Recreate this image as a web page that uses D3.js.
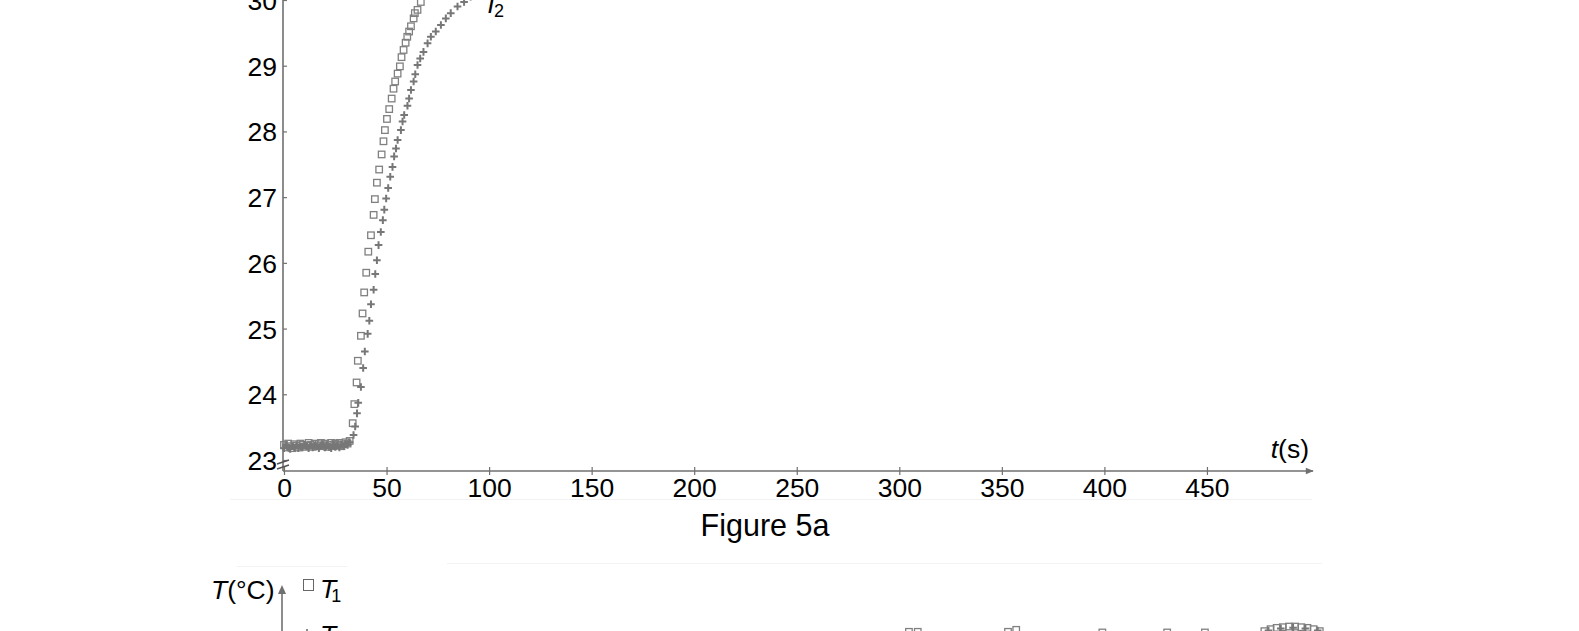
<!DOCTYPE html>
<html>
<head>
<meta charset="utf-8">
<script src="https://cdn.jsdelivr.net/npm/d3@7/dist/d3.min.js"></script>
<style>
  html, body { margin: 0; padding: 0; background: #fff; }
  svg { display: block; }
  text { font-family: "Liberation Sans", Arial, sans-serif; fill: #000; }
</style>
</head>
<body>
<svg id="chart" width="1579" height="631"></svg>
<script>
// ---------------- data ----------------
const xTicks = [0, 50, 100, 150, 200, 250, 300, 350, 400, 450];
const yTicks = [23, 24, 25, 26, 27, 28, 29, 30];

// T1 (squares) — Figure 5a
const t1Time = [0,1,2,3,4,5,6,7,8,9,10,11,12,13,14,15,16,17,18,19,20,21,22,23,24,25,26,27,28,29,30,31,32,
  33.5,34.3,35.4,36.0,37.5,38.3,39.1,40.1,41.1,42.4,43.7,44.3,45.3,46.4,47.6,48.5,49.2,50.2,51.3,52.5,53.4,
  54.2,55.4,56.5,57.3,58.3,59.3,60.1,61.0,61.9,63.2,63.8,65.1,66.7,68.0,69.5];
const t1Temp = [23.23,23.19,23.25,23.21,23.18,23.24,23.22,23.19,23.25,23.23,23.20,23.22,23.26,23.23,23.20,23.25,
  23.21,23.24,23.26,23.21,23.25,23.20,23.23,23.26,23.21,23.25,23.23,23.26,23.21,23.24,23.27,23.25,23.29,
  23.56,23.85,24.18,24.51,24.89,25.23,25.55,25.85,26.17,26.42,26.73,26.97,27.22,27.42,27.65,27.85,28.02,
  28.19,28.34,28.50,28.65,28.76,28.88,28.99,29.13,29.24,29.35,29.44,29.52,29.60,29.72,29.80,29.85,29.97,30.10,30.25];

// T2 (plus) — Figure 5a
const t2Time = [0,1,2,3,4,5,6,7,8,9,10,11,12,13,14,15,16,17,18,19,20,21,22,23,24,25,26,27,28,29,30,31,32,
  33.9,34.7,35.6,36.2,37.5,38.6,39.4,40.8,41.6,42.4,43.7,44.5,45.3,46.1,47.2,48.2,48.9,49.8,50.8,51.8,52.9,
  53.7,54.6,55.4,57.0,57.8,58.6,60.2,61.0,61.9,63.2,64.0,65.1,66.4,68.0,70.0,71.6,74.0,76.5,78.9,81.3,84.6,87.8,91.0,94.5];
const t2Temp = [23.18,23.22,23.19,23.17,23.21,23.19,23.22,23.18,23.21,23.19,23.23,23.21,23.18,23.22,23.19,23.22,
  23.21,23.18,23.22,23.23,23.19,23.22,23.20,23.18,23.23,23.20,23.22,23.19,23.23,23.21,23.24,23.23,23.27,
  23.38,23.51,23.71,23.87,24.11,24.40,24.65,24.92,25.12,25.37,25.59,25.83,26.04,26.27,26.47,26.65,26.81,
  26.98,27.14,27.31,27.46,27.62,27.74,27.87,28.02,28.15,28.25,28.39,28.50,28.63,28.76,28.87,29.01,29.11,
  29.21,29.34,29.44,29.52,29.62,29.72,29.80,29.90,29.97,30.05,30.12];

// Figure 5b — only the tops of these markers are visible
const b1Time = [304.7, 309.0, 353.0, 357.0, 399.0, 430.6, 449.0, 478, 481, 484, 487, 490, 493, 496, 499, 502, 505];
const b1Temp = [33.14, 33.14, 33.14, 33.17, 33.13, 33.13, 33.13, 33.15, 33.18, 33.2, 33.21, 33.22, 33.22, 33.21, 33.2, 33.18, 33.15];
const b2Time = [480, 486, 492, 498, 504];
const b2Temp = [33.16, 33.19, 33.2, 33.19, 33.16];

// ---------------- drawing ----------------
const svg = d3.select("#chart");
const grey = "#808080";
const axisGrey = "#707070";
const tickFont = 26.5;

svg.append("rect").attr("width", 1579).attr("height", 631).attr("fill", "#fff");

// faint image boundaries
svg.append("line").attr("x1", 230).attr("x2", 1312).attr("y1", 499.5).attr("y2", 499.5)
  .attr("stroke", "#f2f2f2").attr("stroke-width", 1);
svg.append("line").attr("x1", 447).attr("x2", 1322).attr("y1", 563.5).attr("y2", 563.5)
  .attr("stroke", "#f3f3f3").attr("stroke-width", 1);
svg.append("line").attr("x1", 237).attr("x2", 347).attr("y1", 566.5).attr("y2", 566.5)
  .attr("stroke", "#f3f3f3").attr("stroke-width", 1);

const defs = svg.append("defs");
defs.append("marker").attr("id", "arrow").attr("viewBox", "0 0 10 10")
  .attr("refX", 9).attr("refY", 5).attr("markerWidth", 10).attr("markerHeight", 8)
  .attr("markerUnits", "userSpaceOnUse").attr("orient", "auto")
  .append("path").attr("d", "M0,1 L10,5 L0,9 Z").attr("fill", axisGrey);

// scales (Figure 5a)
const x = d3.scaleLinear().domain([0, 500]).range([284, 284 + 500 * 2.051]);
const y = d3.scaleLinear().domain([23, 30]).range([460, 0]);
const yAxisX = 283;
const xAxisY = 471;

// Y axis line
svg.append("line").attr("x1", yAxisX).attr("x2", yAxisX).attr("y1", -10).attr("y2", xAxisY)
  .attr("stroke", axisGrey).attr("stroke-width", 1.6);
// X axis line with arrow
svg.append("line").attr("x1", yAxisX).attr("x2", 1313).attr("y1", xAxisY).attr("y2", xAxisY)
  .attr("stroke", axisGrey).attr("stroke-width", 1.6).attr("marker-end", "url(#arrow)");

// x axis ticks & labels
const gx = svg.append("g").attr("transform", `translate(0,${xAxisY})`)
  .call(d3.axisBottom(x).tickValues(xTicks).tickSize(4).tickPadding(6).tickFormat(d3.format("d")));
gx.select(".domain").remove();
gx.selectAll(".tick line").attr("y1", -4).attr("y2", 4).attr("stroke", axisGrey).attr("stroke-width", 1.2);
gx.selectAll(".tick text").attr("font-size", tickFont).attr("font-family", "Liberation Sans, Arial, sans-serif")
  .attr("fill", "#000").attr("y", 26).attr("dy", 0);

// y axis ticks & labels
const gy = svg.append("g").attr("transform", `translate(${yAxisX},0)`)
  .call(d3.axisLeft(y).tickValues(yTicks).tickSizeInner(-4).tickSizeOuter(0).tickPadding(6).tickFormat(d3.format("d")));
gy.select(".domain").remove();
gy.selectAll(".tick line").attr("stroke", axisGrey).attr("stroke-width", 1.2);
gy.selectAll(".tick text").attr("font-size", tickFont).attr("font-family", "Liberation Sans, Arial, sans-serif")
  .attr("fill", "#000").attr("dy", "0.36em");

// axis break marks
[0, 5].forEach(o => {
  svg.append("line").attr("x1", yAxisX - 6).attr("x2", yAxisX + 6)
    .attr("y1", 464 + o).attr("y2", 460 + o)
    .attr("stroke", "#555").attr("stroke-width", 1.4);
});

// data markers
const t1 = t1Time.map((t, i) => ({ t, v: t1Temp[i] }));
const t2 = t2Time.map((t, i) => ({ t, v: t2Temp[i] }));
const sq = 6.5;

svg.append("g").selectAll("rect").data(t1).join("rect")
  .attr("x", d => x(d.t) - sq / 2).attr("y", d => y(d.v) - sq / 2)
  .attr("width", sq).attr("height", sq)
  .attr("fill", "none").attr("stroke", grey).attr("stroke-width", 1.3);

const plus = 3.8;
svg.append("g").selectAll("path").data(t2).join("path")
  .attr("d", d => {
    const cx = x(d.t), cy = y(d.v);
    return `M${cx - plus},${cy}H${cx + plus}M${cx},${cy - plus}V${cy + plus}`;
  })
  .attr("fill", "none").attr("stroke", "#777").attr("stroke-width", 2);

// series label T2 (top cut off)
const lab2 = svg.append("text").attr("x", 483).attr("y", 13).attr("font-size", 26);
lab2.append("tspan").attr("font-style", "italic").text("T");
lab2.append("tspan").attr("font-size", 18).attr("dx", -5).attr("dy", 4).text("2");

// t(s) label
const ts = svg.append("text").attr("x", 1309).attr("y", 458).attr("font-size", tickFont)
  .attr("text-anchor", "end");
ts.append("tspan").attr("font-style", "italic").text("t");
ts.append("tspan").text("(s)");

// Figure caption
svg.append("text").attr("x", 765).attr("y", 536).attr("font-size", 30.5)
  .attr("text-anchor", "middle").text("Figure 5a");

// ---------------- Figure 5b (top edge only) ----------------
const y2 = d3.scaleLinear().domain([33, 34]).range([641, 575.3]);
svg.append("line").attr("x1", 282).attr("x2", 282).attr("y1", 588).attr("y2", 660)
  .attr("stroke", axisGrey).attr("stroke-width", 1.6);
svg.append("path").attr("d", "M278,594 L282,585 L286,594 Z").attr("fill", axisGrey);

const tl = svg.append("text").attr("x", 211).attr("y", 599).attr("font-size", tickFont);
tl.append("tspan").attr("font-style", "italic").text("T");
tl.append("tspan").text("(°C)");

// tick label 33 (mostly cut off)
svg.append("text").attr("x", 270).attr("y", y2(33)).attr("dy", "0.36em")
  .attr("font-size", tickFont).attr("text-anchor", "end").text("33");

// legend
svg.append("rect").attr("x", 303.5).attr("y", 579.5).attr("width", 10).attr("height", 11)
  .attr("fill", "none").attr("stroke", "#666").attr("stroke-width", 1);
const lg1 = svg.append("text").attr("x", 320).attr("y", 598).attr("font-size", tickFont);
lg1.append("tspan").attr("font-style", "italic").text("T");
lg1.append("tspan").attr("font-size", 18).attr("dx", -5).attr("dy", 4).text("1");
svg.append("path").attr("d", "M302,635H312M307,629V641").attr("stroke", "#666").attr("stroke-width", 1.5);
svg.append("text").attr("x", 320).attr("y", 644).attr("font-size", tickFont).attr("font-style", "italic").text("T");

const b1 = b1Time.map((t, i) => ({ t, v: b1Temp[i] }));
const b2 = b2Time.map((t, i) => ({ t, v: b2Temp[i] }));
svg.append("g").selectAll("rect").data(b1).join("rect")
  .attr("x", d => x(d.t) - sq / 2).attr("y", d => y2(d.v) - sq / 2)
  .attr("width", sq).attr("height", sq)
  .attr("fill", "none").attr("stroke", grey).attr("stroke-width", 1.3);
svg.append("g").selectAll("path").data(b2).join("path")
  .attr("d", d => {
    const cx = x(d.t), cy = y2(d.v);
    return `M${cx - plus},${cy}H${cx + plus}M${cx},${cy - plus}V${cy + plus}`;
  })
  .attr("fill", "none").attr("stroke", "#777").attr("stroke-width", 2);
</script>
</body>
</html>
